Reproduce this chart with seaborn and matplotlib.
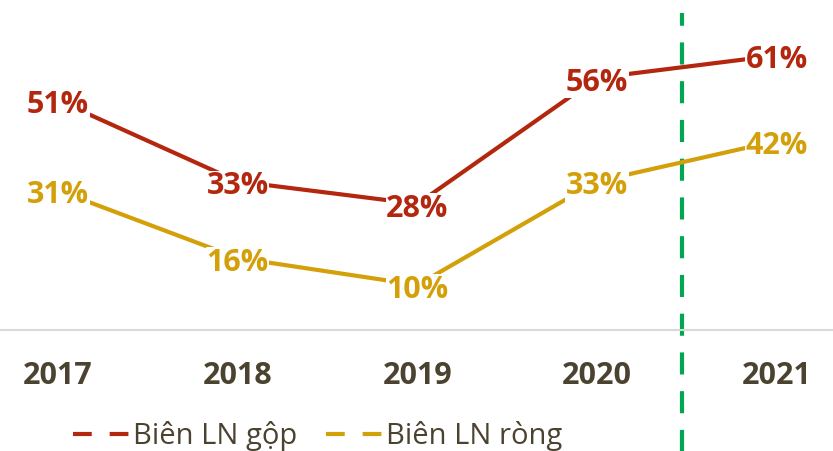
import pandas as pd
import matplotlib.pyplot as plt
import seaborn as sns
from matplotlib.lines import Line2D

years = ["2017", "2018", "2019", "2020", "2021"]
gross_margin = [51, 33, 28, 56, 61]
net_margin = [31, 16, 10, 33, 42]
series_names = ["Biên LN gộp", "Biên LN ròng"]
colors = ["#B3270E", "#D4A00A"]
text_color = "#4B4330"

df = pd.DataFrame({
    "idx": list(range(len(years))) * 2,
    "value": gross_margin + net_margin,
    "series": [series_names[0]] * len(years) + [series_names[1]] * len(years),
})

sns.set_theme(style="white")
plt.rcParams["font.family"] = ["Open Sans", "DejaVu Sans"]

fig = plt.figure(figsize=(8.33, 4.51), dpi=100)
ax = fig.add_axes([0, 121 / 451, 1, 330 / 451])

sns.lineplot(data=df, x="idx", y="value", hue="series", palette=colors,
             linewidth=3, legend=False, ax=ax)

# value labels, white box hides the line behind the text
for vals, col in zip([gross_margin, net_margin], colors):
    for i, v in enumerate(vals):
        ax.annotate(f"{v}%", (i, v), xytext=(0, -3.5), textcoords="offset points",
                    ha="center", va="center", fontsize=22, fontweight="bold",
                    color=col, zorder=5,
                    bbox=dict(facecolor="white", edgecolor="none", pad=0.5))

# forecast separator
ax.axvline(3.47, ymin=-0.38, ymax=0.962, color="#00A651", linewidth=3,
           dashes=(5.3, 4), clip_on=False, zorder=1)

ax.set_xlim(-0.323, 4.313)
ax.set_ylim(0, 73.3)
ax.set_xticks(range(len(years)))
ax.set_xticklabels(years, fontsize=22, fontweight="bold", color=text_color)
ax.tick_params(axis="x", length=0, pad=22)
ax.set_yticks([])
ax.set_xlabel("")
ax.set_ylabel("")
for side in ["top", "left", "right"]:
    ax.spines[side].set_visible(False)
ax.spines["bottom"].set_color("#D9D9D9")
ax.spines["bottom"].set_linewidth(1.5)

handles = [Line2D([], [], color=c, linewidth=3, dashes=(4.5, 4.3)) for c in colors]
fig.legend(handles, series_names, loc="center left", bbox_to_anchor=(73 / 833, 15 / 451),
           ncol=2, frameon=False, fontsize=21, labelcolor=text_color,
           handlelength=2.05, handletextpad=0.0, columnspacing=1.0,
           borderpad=0, borderaxespad=0)

fig.savefig("out.png", dpi=100)
